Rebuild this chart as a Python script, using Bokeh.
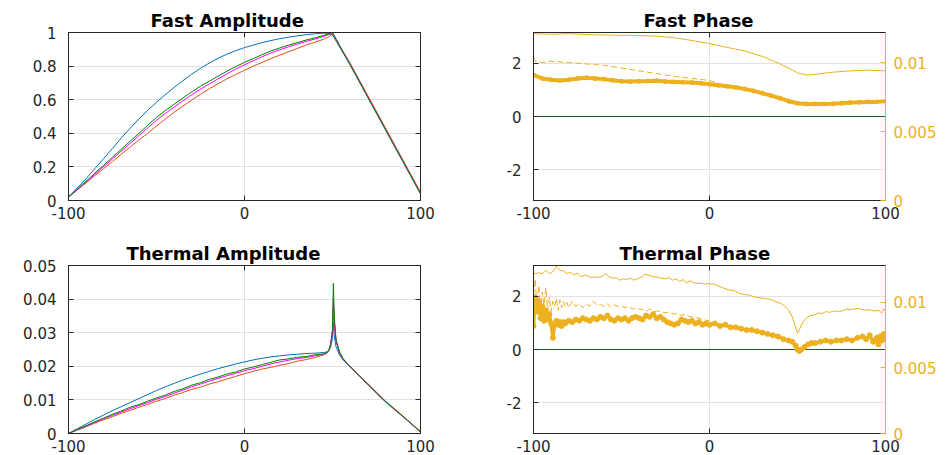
from bokeh.plotting import figure
from bokeh.layouts import column, row
from bokeh.models import Range1d, LinearAxis, FixedTicker, CustomJSTickFormatter
from bokeh.embed import file_html
from bokeh.resources import INLINE
import math

# ---------------- data ----------------
titles = ["Fast Amplitude", "Fast Phase", "Thermal Amplitude", "Thermal Phase"]

x_ticks = [-100, 0, 100]
x_labels = ["-100", "0", "100"]
fa_ticks = [0, 0.2, 0.4, 0.6, 0.8, 1]
fa_labels = ["0", "0.2", "0.4", "0.6", "0.8", "1"]
ta_ticks = [0, 0.01, 0.02, 0.03, 0.04, 0.05]
ta_labels = ["0", "0.01", "0.02", "0.03", "0.04", "0.05"]
ph_ticks = [-2, 0, 2]
ph_labels = ["-2", "0", "2"]
r_ticks = [0, 0.005, 0.01]
r_labels = ["0", "0.005", "0.01"]

# Fast amplitude
fa_x = [-100, -95, -90, -85, -80, -75, -70, -65, -60, -55, -50, -45, -40, -35, -30,
        -25, -20, -15, -10, -5, 0, 5, 10, 15, 20, 25, 30, 35, 40, 45, 48, 50,
        60, 70, 80, 90, 100]
fa_blue = [0.02, 0.075, 0.13, 0.19, 0.25, 0.31, 0.372, 0.43, 0.485, 0.537, 0.585, 0.63, 0.673, 0.713, 0.752,
           0.787, 0.818, 0.847, 0.871, 0.892, 0.91, 0.925, 0.94, 0.952, 0.963, 0.972, 0.98, 0.987, 0.992, 0.996, 0.995, 0.985,
           0.808, 0.616, 0.424, 0.232, 0.04]
fa_orange = [0.02, 0.063, 0.105, 0.148, 0.19, 0.232, 0.275, 0.318, 0.36, 0.40, 0.443, 0.485, 0.525, 0.562, 0.598,
             0.632, 0.665, 0.695, 0.724, 0.75, 0.775, 0.80, 0.822, 0.845, 0.865, 0.885, 0.905, 0.925, 0.942, 0.96, 0.975, 0.99,
             0.818, 0.626, 0.434, 0.242, 0.05]
fa_magenta = [0.02, 0.065, 0.11, 0.156, 0.202, 0.248, 0.294, 0.34, 0.386, 0.432, 0.478, 0.518, 0.556, 0.593, 0.63,
              0.663, 0.694, 0.724, 0.754, 0.782, 0.808, 0.832, 0.856, 0.878, 0.897, 0.915, 0.931, 0.947, 0.961, 0.977, 0.988, 0.998,
              0.81, 0.618, 0.426, 0.234, 0.042]
fa_green = [0.02, 0.068, 0.115, 0.163, 0.21, 0.258, 0.305, 0.353, 0.40, 0.447, 0.495, 0.535, 0.573, 0.61, 0.647,
            0.68, 0.71, 0.74, 0.77, 0.797, 0.822, 0.845, 0.868, 0.89, 0.908, 0.925, 0.94, 0.955, 0.968, 0.983, 0.992, 1.0,
            0.808, 0.616, 0.424, 0.232, 0.04]

# Thermal amplitude
ta_x = [-100, -95, -90, -85, -80, -75, -70, -65, -60, -55, -50, -45, -40, -35, -30,
        -25, -20, -15, -10, -5, 0, 5, 10, 15, 20, 25, 30, 35, 40, 45,
        47, 48, 49, 50, 50.5, 51, 52, 54, 56,
        60, 65, 70, 75, 80, 85, 90, 95, 100]
ta_blue = [0, 0.0014, 0.0028, 0.0042, 0.0055, 0.0068, 0.008, 0.0092, 0.0104, 0.0116, 0.0128, 0.0139, 0.0149, 0.0159, 0.0168,
           0.0177, 0.0185, 0.0193, 0.02, 0.0207, 0.0213, 0.0219, 0.0224, 0.0228, 0.0231, 0.0234, 0.0236, 0.0238, 0.0239, 0.0241,
           0.0243, 0.0247, 0.0258, 0.0285, 0.033, 0.029, 0.0258, 0.0234, 0.0219,
           0.0198, 0.0172, 0.0146, 0.012, 0.0095, 0.0073, 0.0051, 0.0028, 0.0005]
ta_orange = [0, 0.001, 0.002, 0.0031, 0.0041, 0.005, 0.006, 0.0069, 0.0078, 0.0087, 0.0096, 0.0104, 0.0114, 0.0122, 0.0131,
             0.0138, 0.0147, 0.0154, 0.0162, 0.017, 0.0178, 0.0185, 0.0192, 0.0197, 0.0203, 0.0208, 0.0215, 0.022, 0.0226, 0.0234,
             0.024, 0.0248, 0.0265, 0.03, 0.038, 0.033, 0.0275, 0.0243, 0.0223,
             0.02, 0.0174, 0.0149, 0.0123, 0.0097, 0.0075, 0.0052, 0.0029, 0.0006]
ta_magenta = [0, 0.0011, 0.0022, 0.0033, 0.0044, 0.0054, 0.0064, 0.0074, 0.0083, 0.0092, 0.0102, 0.011, 0.012, 0.0129, 0.0139,
              0.0147, 0.0156, 0.0164, 0.0172, 0.0179, 0.0187, 0.0193, 0.02, 0.0207, 0.0213, 0.0218, 0.0223, 0.0226, 0.0231, 0.0236,
              0.0241, 0.0248, 0.0266, 0.0305, 0.040, 0.0335, 0.0275, 0.024, 0.0221,
              0.0199, 0.0172, 0.0147, 0.012, 0.0096, 0.0072, 0.0051, 0.0027, 0.0005]
ta_green = [0, 0.0012, 0.0023, 0.0035, 0.0046, 0.0057, 0.0067, 0.0078, 0.0086, 0.0096, 0.0106, 0.0114, 0.0125, 0.0133, 0.0144,
            0.0151, 0.0161, 0.0168, 0.0177, 0.0183, 0.0192, 0.0198, 0.0205, 0.0212, 0.0219, 0.0222, 0.0227, 0.0229, 0.0234, 0.0237,
            0.0242, 0.0249, 0.0268, 0.031, 0.0447, 0.035, 0.028, 0.0242, 0.0222,
            0.0199, 0.0173, 0.0146, 0.0121, 0.0095, 0.0073, 0.005, 0.0028, 0.0004]

# Phase: zero lines (left axis)
zero_x = [-100, 100]
zero_y = [0, 0]

# Fast phase, right axis
fp_thin_x = [-100, -90, -80, -70, -60, -50, -40, -30, -20, -10, 0, 10, 20, 30, 40, 45, 50, 55, 60, 70, 80, 90, 100]
fp_thin_y = [0.0121, 0.01205, 0.0121, 0.01203, 0.0120, 0.01198, 0.01196, 0.01192, 0.0118, 0.0116, 0.01138, 0.0111,
             0.01085, 0.01045, 0.0099, 0.0096, 0.00925, 0.0091, 0.00915, 0.0093, 0.0094, 0.00945, 0.0094]
fp_dash_x = [-100, -99, -95, -90, -80, -70, -60, -50, -40, -30, -20, -10, 0, 10]
fp_dash_y = [0.0104, 0.0101, 0.0100, 0.0101, 0.0100, 0.0099, 0.0098, 0.0096, 0.0094, 0.0092, 0.0090, 0.00885, 0.0087, 0.0083]
fp_thick_x = [-100, -95, -90, -85, -80, -75, -70, -65, -60, -55, -50, -45, -40, -35, -30, -25, -20, -15, -10, -5,
              0, 5, 10, 15, 20, 25, 30, 35, 40, 45, 50, 55, 60, 65, 70, 75, 80, 85, 90, 95, 100]
fp_thick_y = [0.0091, 0.00885, 0.00875, 0.0087, 0.00875, 0.00885, 0.0089, 0.00885, 0.0088, 0.00872, 0.00865, 0.00862,
              0.00865, 0.00866, 0.00868, 0.00862, 0.0086, 0.00858, 0.00855, 0.0085, 0.00843, 0.00835, 0.00828, 0.0082,
              0.00808, 0.00795, 0.00778, 0.0076, 0.00742, 0.0072, 0.00705, 0.007, 0.007, 0.007, 0.00702, 0.00705,
              0.0071, 0.00712, 0.00715, 0.00715, 0.0072]

# Thermal phase, right axis
tp_thin_x = [-100, -97, -95, -93, -91, -89, -87, -85, -83, -81, -79, -77, -75, -73, -71, -69, -67, -65, -63, -61, -59,
             -57, -55, -53, -51, -49, -47, -45, -43, -41, -39, -37, -35, -33, -31, -29, -27, -25, -23, -21, -19, -17,
             -15, -13, -11, -9, -7, -5, -3, -1, 1, 3, 5, 8, 11, 14, 17, 20, 23, 26, 29, 32, 35, 38, 41, 43, 45, 47,
             49, 50, 51, 53, 55, 57, 60, 62, 64, 66, 68, 70, 72, 74, 76, 78, 80, 82, 84, 86, 88, 90, 92, 94, 96, 98,
             99, 100]
tp_thin_y = [0.0122, 0.01225, 0.0122, 0.01245, 0.0122, 0.01235, 0.01275, 0.01245, 0.0124, 0.0122, 0.01232, 0.0121,
             0.01225, 0.01195, 0.0121, 0.012, 0.0119, 0.01195, 0.0119, 0.012, 0.0122, 0.01195, 0.01185, 0.0119, 0.0117,
             0.0118, 0.01175, 0.01185, 0.0117, 0.0118, 0.0119, 0.01215, 0.0121, 0.012, 0.01195, 0.0119, 0.01185,
             0.0118, 0.0119, 0.0117, 0.0118, 0.0116, 0.01175, 0.0115, 0.01165, 0.0115, 0.01145, 0.01148, 0.0114,
             0.01145, 0.0114, 0.0114, 0.01125, 0.0111, 0.01095, 0.0109, 0.0107, 0.0106, 0.01055, 0.0104, 0.01035,
             0.0103, 0.0102, 0.01005, 0.0099, 0.0097, 0.0094, 0.0089, 0.0081, 0.00765, 0.0079, 0.0085, 0.0088, 0.009,
             0.00905, 0.0092, 0.00915, 0.0093, 0.00925, 0.0093, 0.00935, 0.0093, 0.0094, 0.0095, 0.00945, 0.0095,
             0.00955, 0.0095, 0.0094, 0.00945, 0.0094, 0.00935, 0.0094, 0.0092, 0.0095, 0.0094]
tp_dash_x = [-100, -99, -98, -97, -96, -95, -94, -93, -92, -91, -90, -89, -88, -87, -86, -85, -84, -83, -82, -81, -80,
             -78, -76, -74, -72, -70, -68, -66, -64, -62, -60, -58, -56, -54, -52, -50, -48, -46, -44, -42, -40, -38,
             -36, -34, -32, -30, -28, -26, -24, -22, -20, -18, -16, -14, -12, -10, -8, -6, -4, -2, 0]
tp_dash_y = [0.0105, 0.0118, 0.0095, 0.0113, 0.0092, 0.0108, 0.0098, 0.0111, 0.0094, 0.0104, 0.0093, 0.0101, 0.0097,
             0.0103, 0.0094, 0.0102, 0.0096, 0.0101, 0.0097, 0.01, 0.0096, 0.0101, 0.0097, 0.0099, 0.0096, 0.0099,
             0.0097, 0.0101, 0.0098, 0.00985, 0.0097, 0.0099, 0.0096, 0.0098, 0.0097, 0.00975, 0.0096, 0.0097, 0.0095,
             0.00955, 0.0095, 0.00945, 0.0093, 0.0095, 0.0093, 0.00935, 0.0093, 0.0092, 0.00925, 0.0092, 0.0091,
             0.0092, 0.009, 0.0091, 0.00895, 0.0089, 0.00885, 0.0088, 0.0087, 0.00865, 0.0086]
tp_thick_x = [-100, -99, -98, -97, -96, -95, -94, -93, -92, -91, -90, -89, -88, -87, -86, -85, -84, -83, -82, -80, -78,
              -76, -74, -72, -70, -68, -66, -64, -62, -60, -58, -56, -54, -52, -50, -48, -46, -44, -42, -40, -38, -36,
              -34, -32, -30, -28, -26, -24, -22, -20, -18, -16, -14, -12, -10, -8, -6, -4, -2, 0, 3, 6, 9, 12, 15, 18,
              21, 24, 27, 30, 33, 36, 39, 42, 45, 47, 49, 50, 51, 52, 54, 56, 58, 60, 63, 66, 69, 72, 75, 78, 81, 84,
              87, 89, 91, 93, 95, 96, 97, 98, 99, 100]
tp_thick_y = [0.0082, 0.0104, 0.0093, 0.0101, 0.0088, 0.0097, 0.0086, 0.0094, 0.0087, 0.0091, 0.0084, 0.0073, 0.0083,
              0.0086, 0.0083, 0.0085, 0.0082, 0.0085, 0.0084, 0.0086, 0.0085, 0.0087, 0.0086, 0.0088, 0.0087, 0.0086,
              0.0088, 0.0087, 0.0089, 0.0088, 0.009, 0.0087, 0.0086, 0.0088, 0.0087, 0.0088, 0.0086, 0.0088, 0.0089,
              0.0088, 0.0087, 0.009, 0.0089, 0.0091, 0.0088, 0.0089, 0.0087, 0.0085, 0.0084, 0.0083, 0.0084, 0.0087,
              0.0086, 0.0085, 0.0086, 0.0084, 0.0085, 0.0083, 0.0084, 0.0083, 0.0084, 0.0082, 0.0083, 0.0081, 0.0081,
              0.008, 0.0079, 0.0079, 0.0078, 0.0077, 0.0076, 0.0075, 0.0074, 0.0072, 0.0071, 0.007, 0.0067, 0.0064,
              0.0063, 0.0064, 0.0066, 0.0068, 0.0069, 0.0069, 0.007, 0.0071, 0.007, 0.0071, 0.0071, 0.0072, 0.0071,
              0.0073, 0.0074, 0.0072, 0.0075, 0.007, 0.0073, 0.0068, 0.0074, 0.0071, 0.0076, 0.0072]

# ---------------- styling ----------------
BLUE = "#0072BD"
ORANGE = "#D95319"
MAGENTA = "#FF00FF"
GREEN = "#008000"
DKGREEN = "#1b5e20"
YELLOW = "#EDB120"
AX = "#262626"
FONT = "DejaVu Sans"
TICK_SIZE = "15px"


def fmt(tv, lb):
    return CustomJSTickFormatter(args=dict(tv=tv, lb=lb), code="""
        for (let i = 0; i < tv.length; i++) {
            if (Math.abs(tv[i] - tick) < 1e-9) { return lb[i]; }
        }
        return '';
    """)


def style_axis(ax, color=AX, standoff=6):
    ax.axis_line_color = color
    ax.major_tick_line_color = color
    ax.minor_tick_line_color = None
    ax.major_tick_in = 5
    ax.major_tick_out = 0
    ax.major_label_text_color = color
    ax.major_label_text_font = FONT
    ax.major_label_text_font_size = TICK_SIZE
    ax.major_label_standoff = standoff


def add_mirror(p, side, yticks=None):
    ax = LinearAxis(ticker=FixedTicker(ticks=yticks if yticks is not None else x_ticks),
                    formatter=CustomJSTickFormatter(code="return '';"))
    style_axis(ax, standoff=0)
    ax.major_label_text_font_size = "0px"
    p.add_layout(ax, side)


def make_fig(w, h, left, right, top, bottom, title, title_offset, yr, yticks, ylabels):
    p = figure(width=w, height=h, x_range=Range1d(-100, 100), y_range=Range1d(*yr),
               output_backend="svg", toolbar_location=None,
               min_border_left=left, min_border_right=right,
               min_border_top=top, min_border_bottom=bottom)
    p.title.text = title
    p.title.text_font = FONT
    p.title.text_font_style = "bold"
    p.title.text_font_size = "18px"
    p.title.text_color = "black"
    p.title.align = "left"
    p.title.offset = title_offset
    p.title.standoff = 4
    p.outline_line_color = AX
    p.outline_line_width = 1
    p.background_fill_color = "white"
    p.border_fill_color = "white"
    p.xaxis.ticker = FixedTicker(ticks=x_ticks)
    p.xaxis.formatter = fmt(x_ticks, x_labels)
    p.yaxis.ticker = FixedTicker(ticks=yticks)
    p.yaxis.formatter = fmt(yticks, ylabels)
    style_axis(p.xaxis[0], standoff=6)
    style_axis(p.yaxis[0], standoff=12)
    p.xgrid.ticker = FixedTicker(ticks=x_ticks)
    p.ygrid.ticker = FixedTicker(ticks=yticks)
    for g in (p.xgrid[0], p.ygrid[0]):
        g.grid_line_color = "#e2e2e2"
        g.grid_line_width = 1
    add_mirror(p, "above")
    return p


def add_right_axis(p, top):
    p.extra_y_ranges = {"r": Range1d(0, top)}
    ax = LinearAxis(y_range_name="r", ticker=FixedTicker(ticks=r_ticks),
                    formatter=fmt(r_ticks, r_labels))
    style_axis(ax, color=YELLOW, standoff=8)
    p.add_layout(ax, "right")


# Top-left: Fast Amplitude
p1 = make_fig(470, 232, 68, 50, 32, 32, titles[0], 82, (0, 1), fa_ticks, fa_labels)
add_mirror(p1, "right", fa_ticks)
for ys, c in ((fa_blue, BLUE), (fa_orange, ORANGE), (fa_magenta, MAGENTA), (fa_green, GREEN)):
    p1.line(fa_x, ys, line_color=c, line_width=1)

# Top-right: Fast Phase
p2 = make_fig(481, 232, 63, 66, 32, 32, titles[1], 110, (-math.pi, math.pi), ph_ticks, ph_labels)
add_right_axis(p2, 0.01218)
p2.line(zero_x, zero_y, line_color=BLUE, line_width=1)
p2.line(zero_x, zero_y, line_color=DKGREEN, line_width=1)
p2.line(fp_thin_x, fp_thin_y, line_color=YELLOW, line_width=1, y_range_name="r")
p2.line(fp_dash_x, fp_dash_y, line_color=YELLOW, line_width=1, line_dash="6 3", y_range_name="r")
p2.line(fp_thick_x, fp_thick_y, line_color=YELLOW, line_width=4, y_range_name="r")
p2.scatter(fp_thick_x, fp_thick_y, marker="circle", size=4, color=YELLOW, y_range_name="r")

# Bottom-left: Thermal Amplitude
p3 = make_fig(470, 223, 68, 50, 33, 22, titles[2], 58, (0, 0.05), ta_ticks, ta_labels)
add_mirror(p3, "right", ta_ticks)
for ys, c in ((ta_blue, BLUE), (ta_orange, ORANGE), (ta_magenta, MAGENTA), (ta_green, GREEN)):
    p3.line(ta_x, ys, line_color=c, line_width=1)

# Bottom-right: Thermal Phase
p4 = make_fig(481, 223, 63, 66, 33, 22, titles[3], 86, (-math.pi, math.pi), ph_ticks, ph_labels)
add_right_axis(p4, 0.01282)
p4.line(zero_x, zero_y, line_color=BLUE, line_width=1)
p4.line(zero_x, zero_y, line_color=DKGREEN, line_width=1)
p4.line(tp_thin_x, tp_thin_y, line_color=YELLOW, line_width=1, y_range_name="r")
p4.line(tp_dash_x, tp_dash_y, line_color=YELLOW, line_width=1, line_dash="6 3", y_range_name="r")
p4.line(tp_thick_x, tp_thick_y, line_color=YELLOW, line_width=3.5, y_range_name="r")
p4.scatter(tp_thick_x, tp_thick_y, marker="circle", size=5, color=YELLOW, y_range_name="r")

layout = column(row(p1, p2), row(p3, p4))
open("out.html", "w").write(file_html(layout, INLINE))
